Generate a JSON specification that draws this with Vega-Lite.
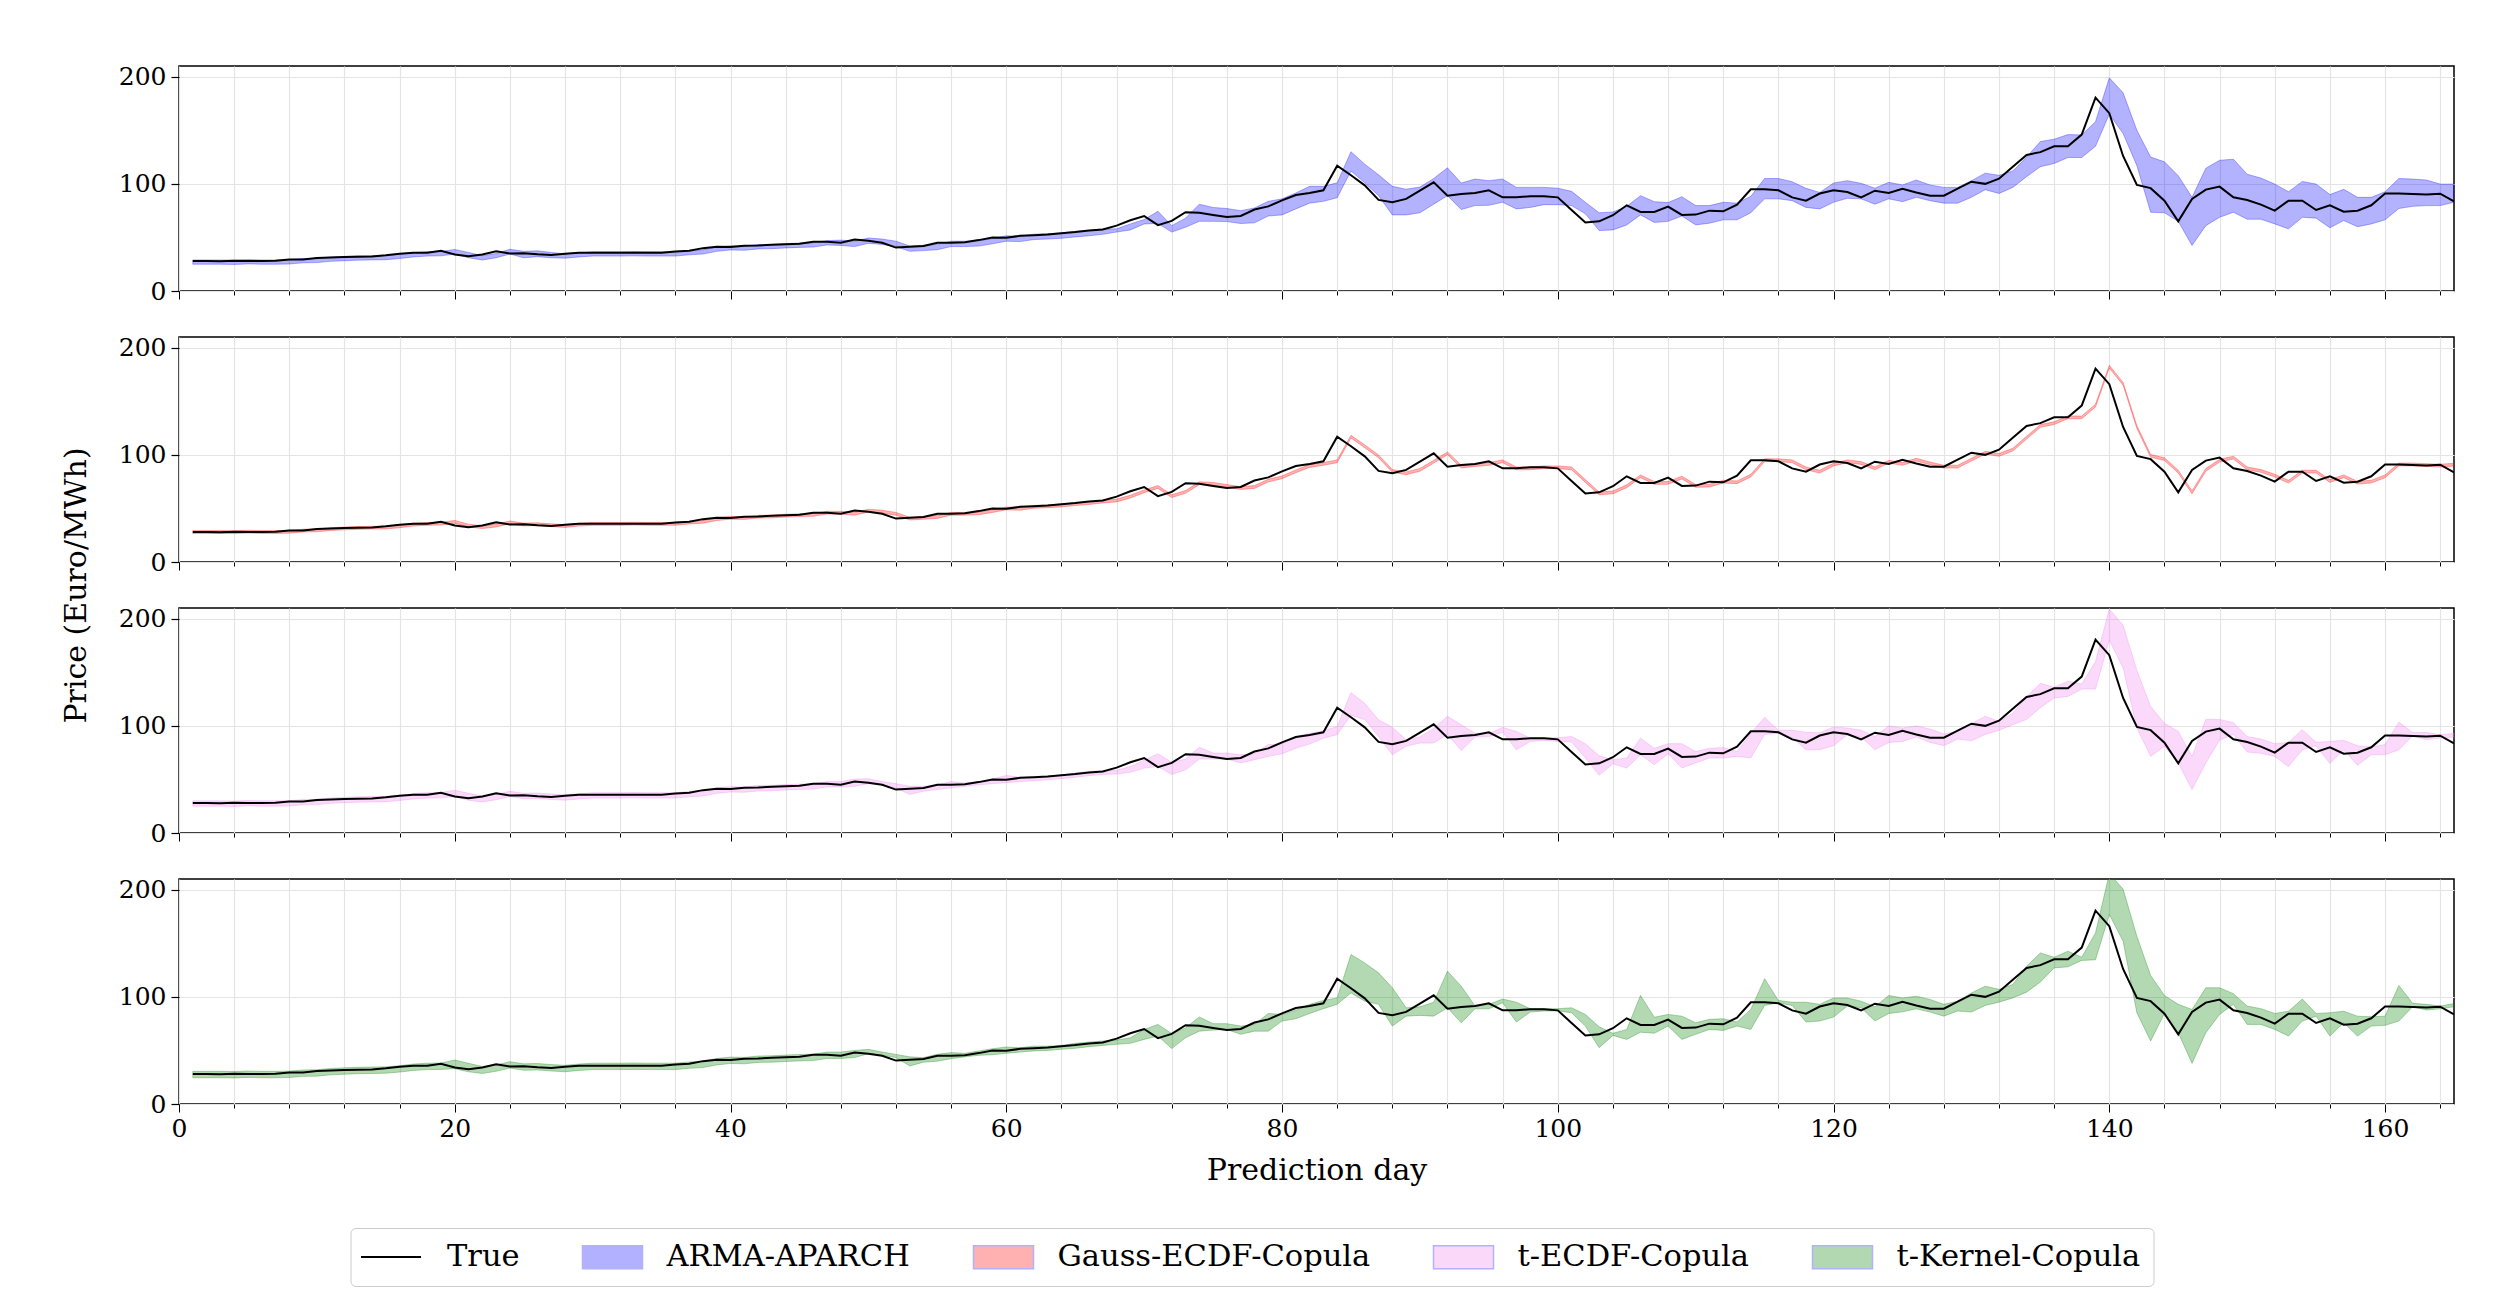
{
"$schema": "https://vega.github.io/schema/vega-lite/v6.json",
"padding": {"left": 60, "top": 63, "right": 40, "bottom": 5},
"background": "white",
"config": {
  "font": "DejaVu Serif",
  "view": {"stroke": "black", "strokeWidth": 1.5},
  "axis": {"labelFont": "DejaVu Serif", "titleFont": "DejaVu Serif", "labelFontSize": 25, "titleFontSize": 30, "titleFontWeight": "normal", "labelColor": "black", "titleColor": "black", "domain": false, "tickColor": "black", "gridColor": "#e4e4e4", "gridWidth": 1.2}
},
"datasets": {"p": [
{"d":1,"t":28,"a0":25,"a1":29,"g0":26.7,"g1":29.3,"p0":25,"p1":30,"k0":24.5,"k1":30.5},
{"d":2,"t":28,"a0":25,"a1":29,"g0":26.7,"g1":29.3,"p0":25,"p1":30,"k0":24.5,"k1":30.5},
{"d":3,"t":27.8,"a0":25,"a1":29,"g0":26.7,"g1":29.3,"p0":25,"p1":30,"k0":24.5,"k1":30.5},
{"d":4,"t":28.3,"a0":24.8,"a1":28.8,"g0":26.5,"g1":29.1,"p0":24.8,"p1":29.8,"k0":24.3,"k1":30.3},
{"d":5,"t":28,"a0":25.3,"a1":29.3,"g0":27,"g1":29.6,"p0":25.3,"p1":30.3,"k0":24.8,"k1":30.8},
{"d":6,"t":28,"a0":25,"a1":29,"g0":26.7,"g1":29.3,"p0":25,"p1":30,"k0":24.5,"k1":30.5},
{"d":7,"t":28.2,"a0":25,"a1":29,"g0":26.7,"g1":29.3,"p0":25,"p1":30,"k0":24.5,"k1":30.5},
{"d":8,"t":29.3,"a0":25.2,"a1":29.2,"g0":26.9,"g1":29.5,"p0":25.2,"p1":30.2,"k0":24.7,"k1":30.7},
{"d":9,"t":29.5,"a0":26.3,"a1":30.3,"g0":28,"g1":30.6,"p0":26.3,"p1":31.3,"k0":25.8,"k1":31.8},
{"d":10,"t":30.7,"a0":26.5,"a1":30.5,"g0":28.2,"g1":30.8,"p0":26.5,"p1":31.5,"k0":26,"k1":32},
{"d":11,"t":31.3,"a0":27.7,"a1":31.7,"g0":29.4,"g1":32,"p0":27.7,"p1":32.7,"k0":27.2,"k1":33.2},
{"d":12,"t":31.8,"a0":28.3,"a1":32.3,"g0":30,"g1":32.6,"p0":28.3,"p1":33.3,"k0":27.8,"k1":33.8},
{"d":13,"t":32,"a0":28.8,"a1":32.8,"g0":30.5,"g1":33.1,"p0":28.8,"p1":33.8,"k0":28.3,"k1":34.3},
{"d":14,"t":32.2,"a0":29,"a1":33,"g0":30.7,"g1":33.3,"p0":29,"p1":34,"k0":28.5,"k1":34.5},
{"d":15,"t":33.3,"a0":29.2,"a1":33.2,"g0":30.9,"g1":33.5,"p0":29.2,"p1":34.2,"k0":28.7,"k1":34.7},
{"d":16,"t":34.8,"a0":30.3,"a1":34.3,"g0":32,"g1":34.6,"p0":30.3,"p1":35.3,"k0":29.8,"k1":35.8},
{"d":17,"t":35.6,"a0":31.8,"a1":35.8,"g0":33.5,"g1":36.1,"p0":31.8,"p1":36.8,"k0":31.3,"k1":37.3},
{"d":18,"t":35.8,"a0":32.6,"a1":36.6,"g0":34.3,"g1":36.9,"p0":32.6,"p1":37.6,"k0":32.1,"k1":38.1},
{"d":19,"t":37.5,"a0":32.8,"a1":36.8,"g0":34.5,"g1":37.1,"p0":32.8,"p1":37.8,"k0":32.3,"k1":38.3},
{"d":20,"t":34,"a0":34.5,"a1":38.8,"g0":36.2,"g1":38.8,"p0":34,"p1":40,"k0":33,"k1":41},
{"d":21,"t":32.5,"a0":31,"a1":36,"g0":32.7,"g1":35.3,"p0":30.5,"p1":37,"k0":30,"k1":38},
{"d":22,"t":34,"a0":29,"a1":33,"g0":31.2,"g1":33.8,"p0":29,"p1":34.5,"k0":28.5,"k1":35},
{"d":23,"t":37,"a0":31,"a1":35,"g0":32.7,"g1":35.3,"p0":31,"p1":36,"k0":30.5,"k1":36.5},
{"d":24,"t":35,"a0":34.5,"a1":39,"g0":35.7,"g1":38.3,"p0":34,"p1":39,"k0":33.5,"k1":39.5},
{"d":25,"t":35.3,"a0":31,"a1":37,"g0":33.7,"g1":36.3,"p0":32,"p1":37,"k0":31.5,"k1":37.5},
{"d":26,"t":34.3,"a0":32,"a1":37.5,"g0":34,"g1":36.6,"p0":32.3,"p1":37.3,"k0":31.8,"k1":37.8},
{"d":27,"t":33.6,"a0":31,"a1":36,"g0":33,"g1":35.6,"p0":31.3,"p1":36.3,"k0":30.8,"k1":36.8},
{"d":28,"t":34.8,"a0":30.6,"a1":34.6,"g0":32.3,"g1":34.9,"p0":30.6,"p1":35.6,"k0":30.1,"k1":36.1},
{"d":29,"t":35.6,"a0":31.8,"a1":35.8,"g0":33.5,"g1":36.1,"p0":31.8,"p1":36.8,"k0":31.3,"k1":37.3},
{"d":30,"t":35.6,"a0":32.6,"a1":36.6,"g0":34.3,"g1":36.9,"p0":32.6,"p1":37.6,"k0":32.1,"k1":38.1},
{"d":31,"t":35.6,"a0":32.6,"a1":36.6,"g0":34.3,"g1":36.9,"p0":32.6,"p1":37.6,"k0":32.1,"k1":38.1},
{"d":32,"t":35.8,"a0":32.6,"a1":36.6,"g0":34.3,"g1":36.9,"p0":32.6,"p1":37.6,"k0":32.1,"k1":38.1},
{"d":33,"t":35.6,"a0":32.8,"a1":36.8,"g0":34.5,"g1":37.1,"p0":32.8,"p1":37.8,"k0":32.3,"k1":38.3},
{"d":34,"t":35.6,"a0":32.6,"a1":36.6,"g0":34.3,"g1":36.9,"p0":32.6,"p1":37.6,"k0":32.1,"k1":38.1},
{"d":35,"t":35.6,"a0":32.6,"a1":36.6,"g0":34.3,"g1":36.9,"p0":32.6,"p1":37.6,"k0":32.1,"k1":38.1},
{"d":36,"t":36.8,"a0":32.6,"a1":36.6,"g0":34.3,"g1":36.9,"p0":32.6,"p1":37.6,"k0":32.1,"k1":38.1},
{"d":37,"t":37.5,"a0":33.8,"a1":37.8,"g0":35.5,"g1":38.1,"p0":33.8,"p1":38.8,"k0":33.3,"k1":39.3},
{"d":38,"t":40,"a0":34.5,"a1":38.5,"g0":36.2,"g1":38.8,"p0":34.5,"p1":39.5,"k0":34,"k1":40},
{"d":39,"t":41.3,"a0":37,"a1":41,"g0":38.7,"g1":41.3,"p0":37,"p1":42,"k0":36.5,"k1":42.5},
{"d":40,"t":41,"a0":38.3,"a1":42.3,"g0":40,"g1":42.6,"p0":38.3,"p1":43.3,"k0":37.8,"k1":43.8},
{"d":41,"t":42.3,"a0":38,"a1":42,"g0":39.7,"g1":42.3,"p0":38,"p1":43,"k0":37.5,"k1":43.5},
{"d":42,"t":42.5,"a0":39.3,"a1":43.3,"g0":41,"g1":43.6,"p0":39.3,"p1":44.3,"k0":38.8,"k1":44.8},
{"d":43,"t":43.2,"a0":39.5,"a1":43.5,"g0":41.2,"g1":43.8,"p0":39.5,"p1":44.5,"k0":39,"k1":45},
{"d":44,"t":43.7,"a0":40.2,"a1":44.2,"g0":41.9,"g1":44.5,"p0":40.2,"p1":45.2,"k0":39.7,"k1":45.7},
{"d":45,"t":44,"a0":40.7,"a1":44.7,"g0":42.4,"g1":45,"p0":40.7,"p1":45.7,"k0":40.2,"k1":46.2},
{"d":46,"t":46,"a0":41,"a1":45,"g0":42.7,"g1":45.3,"p0":41,"p1":46,"k0":40.5,"k1":46.5},
{"d":47,"t":46,"a0":43,"a1":47,"g0":44.7,"g1":47.3,"p0":43,"p1":48,"k0":42.5,"k1":48.5},
{"d":48,"t":45,"a0":42.5,"a1":47.5,"g0":44.7,"g1":47.3,"p0":43,"p1":48,"k0":42.5,"k1":48.5},
{"d":49,"t":48,"a0":41.5,"a1":46.5,"g0":43.7,"g1":46.3,"p0":43.6,"p1":50.4,"k0":43.3,"k1":50},
{"d":50,"t":47,"a0":44.5,"a1":49.5,"g0":46.7,"g1":49.3,"p0":46,"p1":50.7,"k0":47,"k1":51},
{"d":51,"t":45,"a0":43.5,"a1":48.5,"g0":45.7,"g1":48.3,"p0":45,"p1":48,"k0":45.4,"k1":48.5},
{"d":52,"t":40.5,"a0":41.5,"a1":46.5,"g0":43.7,"g1":46.3,"p0":42,"p1":46,"k0":43.3,"k1":46.3},
{"d":53,"t":41.2,"a0":37,"a1":42,"g0":39.2,"g1":41.8,"p0":36,"p1":43.6,"k0":35.5,"k1":44},
{"d":54,"t":42,"a0":37.7,"a1":42.7,"g0":39.9,"g1":42.5,"p0":39,"p1":43.6,"k0":39,"k1":43.3},
{"d":55,"t":45,"a0":38.5,"a1":43.5,"g0":40.7,"g1":43.3,"p0":40.6,"p1":45,"k0":40,"k1":46.4},
{"d":56,"t":45,"a0":41.5,"a1":46.5,"g0":43.7,"g1":46.3,"p0":42,"p1":48,"k0":42.3,"k1":48},
{"d":57,"t":45.4,"a0":41.5,"a1":46.5,"g0":43.7,"g1":46.3,"p0":43.6,"p1":46.6,"k0":44,"k1":47.3},
{"d":58,"t":47.5,"a0":41.9,"a1":46.9,"g0":44.1,"g1":46.7,"p0":45,"p1":48,"k0":45.4,"k1":49.5},
{"d":59,"t":50,"a0":44,"a1":49,"g0":46.2,"g1":48.8,"p0":46,"p1":50.4,"k0":46,"k1":51.6},
{"d":60,"t":49.6,"a0":46.5,"a1":51.5,"g0":48.7,"g1":51.3,"p0":47,"p1":53.7,"k0":47.3,"k1":53.2},
{"d":61,"t":51.5,"a0":46.1,"a1":51.1,"g0":48.3,"g1":50.9,"p0":48,"p1":52,"k0":48.5,"k1":52.6},
{"d":62,"t":52,"a0":48,"a1":53,"g0":50.2,"g1":52.8,"p0":48.7,"p1":52.6,"k0":49.5,"k1":54},
{"d":63,"t":52.7,"a0":48.5,"a1":53.5,"g0":50.7,"g1":53.3,"p0":49.6,"p1":53.2,"k0":50,"k1":54},
{"d":64,"t":54,"a0":49.2,"a1":54.2,"g0":51.4,"g1":54,"p0":50.7,"p1":54,"k0":51,"k1":54.7},
{"d":65,"t":55,"a0":50.5,"a1":55.5,"g0":52.7,"g1":55.3,"p0":52,"p1":56,"k0":52,"k1":56.6},
{"d":66,"t":56.4,"a0":51.5,"a1":56.5,"g0":53.7,"g1":56.3,"p0":53.5,"p1":57.6,"k0":53.5,"k1":57.8},
{"d":67,"t":57.4,"a0":52.9,"a1":57.9,"g0":55.1,"g1":57.7,"p0":54.7,"p1":58,"k0":54.7,"k1":58.8},
{"d":68,"t":61,"a0":55,"a1":58,"g0":56.1,"g1":58.7,"p0":55,"p1":58.5,"k0":55.7,"k1":59.7},
{"d":69,"t":66,"a0":57,"a1":62.6,"g0":59.7,"g1":62.3,"p0":56.6,"p1":62,"k0":56.6,"k1":61.8},
{"d":70,"t":70,"a0":62.6,"a1":66.7,"g0":64.7,"g1":67.3,"p0":60.6,"p1":68,"k0":60.3,"k1":69.5},
{"d":71,"t":61.5,"a0":63,"a1":74.4,"g0":68.7,"g1":71.3,"p0":62,"p1":74,"k0":63.4,"k1":74.3},
{"d":72,"t":65.4,"a0":55,"a1":61,"g0":60.2,"g1":62.8,"p0":54.5,"p1":66,"k0":51.7,"k1":65.8},
{"d":73,"t":73.5,"a0":59.5,"a1":68,"g0":64.1,"g1":66.7,"p0":59,"p1":69,"k0":61.8,"k1":71},
{"d":74,"t":73,"a0":65,"a1":81,"g0":72.2,"g1":74.8,"p0":69,"p1":80,"k0":68,"k1":81.3},
{"d":75,"t":71,"a0":65,"a1":78,"g0":71.7,"g1":74.3,"p0":69,"p1":74.6,"k0":69,"k1":75},
{"d":76,"t":69,"a0":64.8,"a1":77,"g0":69.7,"g1":72.3,"p0":69,"p1":74.6,"k0":69.6,"k1":75},
{"d":77,"t":70,"a0":63,"a1":75,"g0":67.7,"g1":70.3,"p0":65.4,"p1":73,"k0":65,"k1":72.7},
{"d":78,"t":76,"a0":63.6,"a1":77.5,"g0":68.7,"g1":71.3,"p0":68.4,"p1":74,"k0":68,"k1":74.3},
{"d":79,"t":79,"a0":70,"a1":83.7,"g0":74.7,"g1":77.3,"p0":71.5,"p1":82.5,"k0":68,"k1":84.5},
{"d":80,"t":84.6,"a0":71,"a1":86,"g0":77.7,"g1":80.3,"p0":74,"p1":83.4,"k0":77.4,"k1":83.6},
{"d":81,"t":89.6,"a0":76.6,"a1":91.5,"g0":83.3,"g1":85.9,"p0":79,"p1":90,"k0":79.6,"k1":87.6},
{"d":82,"t":91.5,"a0":82,"a1":97.7,"g0":88.3,"g1":90.9,"p0":83,"p1":93,"k0":84.5,"k1":93},
{"d":83,"t":94,"a0":83.7,"a1":97.7,"g0":90.2,"g1":92.8,"p0":88.5,"p1":95.4,"k0":89,"k1":96.7},
{"d":84,"t":117,"a0":87,"a1":101,"g0":92.7,"g1":95.3,"p0":91.8,"p1":99.5,"k0":93,"k1":99},
{"d":85,"t":108,"a0":112,"a1":130,"g0":115.7,"g1":118.3,"p0":110,"p1":131,"k0":103.7,"k1":139.5},
{"d":86,"t":98.6,"a0":101,"a1":118.4,"g0":106.7,"g1":109.3,"p0":106,"p1":121,"k0":96,"k1":131.7},
{"d":87,"t":85,"a0":89,"a1":108.5,"g0":97.3,"g1":99.9,"p0":90,"p1":105.6,"k0":93,"k1":122.4},
{"d":88,"t":82.8,"a0":71,"a1":97.7,"g0":83.7,"g1":86.3,"p0":73,"p1":98.8,"k0":72.7,"k1":108.5},
{"d":89,"t":86,"a0":71,"a1":95,"g0":81.5,"g1":84.1,"p0":81,"p1":87,"k0":82,"k1":89.8},
{"d":90,"t":93.6,"a0":73,"a1":97,"g0":84.7,"g1":87.3,"p0":84,"p1":89.6,"k0":82.7,"k1":90.7},
{"d":91,"t":101.4,"a0":81,"a1":105,"g0":92.3,"g1":94.9,"p0":84,"p1":97.6,"k0":82,"k1":95},
{"d":92,"t":89,"a0":89,"a1":115,"g0":100.1,"g1":102.7,"p0":92,"p1":109,"k0":89.8,"k1":124},
{"d":93,"t":90.5,"a0":76,"a1":100.8,"g0":87.7,"g1":90.3,"p0":77,"p1":101,"k0":75.8,"k1":110},
{"d":94,"t":91.5,"a0":79.7,"a1":104.5,"g0":89.2,"g1":91.8,"p0":89.6,"p1":93,"k0":88.8,"k1":91.4},
{"d":95,"t":94,"a0":80,"a1":103,"g0":90.2,"g1":92.8,"p0":90,"p1":92.5,"k0":88.8,"k1":93},
{"d":96,"t":87.4,"a0":82.8,"a1":104.5,"g0":92.7,"g1":95.3,"p0":94,"p1":98.6,"k0":94.4,"k1":98},
{"d":97,"t":87.4,"a0":76.6,"a1":96.7,"g0":86.1,"g1":88.7,"p0":77.7,"p1":94.8,"k0":76.5,"k1":95},
{"d":98,"t":88.4,"a0":78,"a1":96.7,"g0":86.1,"g1":88.7,"p0":85.5,"p1":88.5,"k0":85.8,"k1":89},
{"d":99,"t":88.4,"a0":80.6,"a1":96.7,"g0":87.1,"g1":89.7,"p0":86.5,"p1":89,"k0":86.8,"k1":89},
{"d":100,"t":87.4,"a0":80.6,"a1":96,"g0":87.1,"g1":89.7,"p0":85.5,"p1":89,"k0":86.8,"k1":89},
{"d":101,"t":75.6,"a0":79.7,"a1":93,"g0":86.1,"g1":88.7,"p0":85,"p1":90,"k0":85.2,"k1":89.8},
{"d":102,"t":64,"a0":72,"a1":82.8,"g0":74.3,"g1":76.9,"p0":70,"p1":83.4,"k0":72.7,"k1":83.6},
{"d":103,"t":65,"a0":56.4,"a1":73,"g0":62.7,"g1":65.3,"p0":53.9,"p1":72,"k0":52.6,"k1":72},
{"d":104,"t":70.7,"a0":57,"a1":73.8,"g0":63.7,"g1":66.3,"p0":64.6,"p1":68.4,"k0":64,"k1":66},
{"d":105,"t":80,"a0":61.7,"a1":79,"g0":69.4,"g1":72,"p0":60.6,"p1":70,"k0":60.3,"k1":69.6},
{"d":106,"t":73.8,"a0":71,"a1":89,"g0":78.7,"g1":81.3,"p0":73,"p1":88.5,"k0":67,"k1":101.3},
{"d":107,"t":73.8,"a0":64,"a1":83.4,"g0":72.5,"g1":75.1,"p0":63.8,"p1":79,"k0":66,"k1":81},
{"d":108,"t":78.8,"a0":65,"a1":82.5,"g0":72.5,"g1":75.1,"p0":74,"p1":83.4,"k0":72.7,"k1":83.6},
{"d":109,"t":71,"a0":70,"a1":88,"g0":77.5,"g1":80.1,"p0":60.6,"p1":83.4,"k0":60.3,"k1":82},
{"d":110,"t":71.3,"a0":61.7,"a1":79.7,"g0":69.7,"g1":72.3,"p0":65.4,"p1":76,"k0":65,"k1":75.8},
{"d":111,"t":75,"a0":63.3,"a1":79.7,"g0":70,"g1":72.6,"p0":70,"p1":79,"k0":69.6,"k1":79},
{"d":112,"t":74.4,"a0":66.4,"a1":82.8,"g0":73.7,"g1":76.3,"p0":70,"p1":79.7,"k0":68.7,"k1":79.6},
{"d":113,"t":80.6,"a0":66.4,"a1":82,"g0":73.1,"g1":75.7,"p0":71.5,"p1":76,"k0":72.7,"k1":76.5},
{"d":114,"t":95,"a0":73,"a1":88.4,"g0":79.3,"g1":81.9,"p0":70,"p1":93,"k0":69.6,"k1":88.3},
{"d":115,"t":95,"a0":86,"a1":105,"g0":93.7,"g1":96.3,"p0":92,"p1":108,"k0":92,"k1":117},
{"d":116,"t":94,"a0":86,"a1":105,"g0":93.7,"g1":96.3,"p0":93,"p1":96,"k0":94.4,"k1":96.7},
{"d":117,"t":87.4,"a0":84.3,"a1":102,"g0":92.7,"g1":95.3,"p0":89,"p1":96,"k0":92,"k1":95},
{"d":118,"t":84.3,"a0":78,"a1":95.8,"g0":86.1,"g1":88.7,"p0":77.7,"p1":94,"k0":76.5,"k1":95},
{"d":119,"t":91,"a0":76.6,"a1":92,"g0":83,"g1":85.6,"p0":77.7,"p1":93.5,"k0":77.4,"k1":93},
{"d":120,"t":94,"a0":82.8,"a1":100.8,"g0":89.7,"g1":92.3,"p0":81.5,"p1":99,"k0":81.1,"k1":99},
{"d":121,"t":92.4,"a0":86.5,"a1":103,"g0":92.7,"g1":95.3,"p0":91.7,"p1":98,"k0":91.4,"k1":99},
{"d":122,"t":87.4,"a0":86,"a1":100.5,"g0":91.1,"g1":93.7,"p0":89.6,"p1":96,"k0":89.8,"k1":96},
{"d":123,"t":93.6,"a0":81,"a1":96,"g0":86.1,"g1":88.7,"p0":77.7,"p1":90,"k0":77.4,"k1":90.7},
{"d":124,"t":91.5,"a0":86,"a1":101.4,"g0":92.3,"g1":94.9,"p0":84.5,"p1":100,"k0":84.5,"k1":101.3},
{"d":125,"t":95.5,"a0":83.4,"a1":99,"g0":90.2,"g1":92.8,"p0":85.5,"p1":98,"k0":86,"k1":99},
{"d":126,"t":92,"a0":87.4,"a1":103.6,"g0":94.2,"g1":96.8,"p0":89.6,"p1":100,"k0":88.8,"k1":100.6},
{"d":127,"t":89,"a0":84.3,"a1":99,"g0":90.7,"g1":93.3,"p0":84.5,"p1":97,"k0":85.8,"k1":97.6},
{"d":128,"t":89,"a0":82,"a1":96.7,"g0":87.7,"g1":90.3,"p0":81.5,"p1":92.5,"k0":82,"k1":93},
{"d":129,"t":95.5,"a0":82,"a1":96.7,"g0":87.7,"g1":90.3,"p0":87.7,"p1":94.8,"k0":86.8,"k1":96},
{"d":130,"t":102,"a0":87.4,"a1":103,"g0":94.2,"g1":96.8,"p0":86,"p1":102,"k0":85.8,"k1":103.7},
{"d":131,"t":100,"a0":94.6,"a1":110,"g0":100.7,"g1":103.3,"p0":92,"p1":109,"k0":92,"k1":110},
{"d":132,"t":104.8,"a0":91,"a1":108,"g0":98.7,"g1":101.3,"p0":95.8,"p1":104,"k0":95,"k1":107},
{"d":133,"t":116,"a0":96.7,"a1":112,"g0":103.5,"g1":106.1,"p0":101,"p1":111.8,"k0":99,"k1":111.6},
{"d":134,"t":127,"a0":106.7,"a1":125,"g0":114.7,"g1":117.3,"p0":106,"p1":127,"k0":104.4,"k1":128.6},
{"d":135,"t":129.6,"a0":116,"a1":139.5,"g0":125.7,"g1":128.3,"p0":117,"p1":139.7,"k0":113.8,"k1":141},
{"d":136,"t":135,"a0":119,"a1":141.7,"g0":128.3,"g1":130.9,"p0":126,"p1":136,"k0":127,"k1":137},
{"d":137,"t":135,"a0":124.6,"a1":146,"g0":133.7,"g1":136.3,"p0":127.5,"p1":141.7,"k0":128,"k1":142.6},
{"d":138,"t":146,"a0":124.6,"a1":145.7,"g0":133.7,"g1":136.3,"p0":134.3,"p1":139,"k0":134,"k1":137},
{"d":139,"t":180.5,"a0":135,"a1":158,"g0":144.7,"g1":147.3,"p0":134.3,"p1":160,"k0":134.6,"k1":159.7},
{"d":140,"t":166,"a0":165,"a1":199,"g0":181,"g1":183.6,"p0":180,"p1":209,"k0":176.8,"k1":215},
{"d":141,"t":126,"a0":147,"a1":185,"g0":165,"g1":167.6,"p0":154,"p1":194,"k0":152,"k1":200.6},
{"d":142,"t":99,"a0":117,"a1":150,"g0":124.7,"g1":127.3,"p0":98,"p1":152,"k0":85,"k1":156.5},
{"d":143,"t":96,"a0":73.5,"a1":125,"g0":97.7,"g1":100.3,"p0":71.5,"p1":118,"k0":58.8,"k1":120},
{"d":144,"t":84.3,"a0":73,"a1":120.6,"g0":94.7,"g1":97.3,"p0":81,"p1":102.5,"k0":84.5,"k1":101.3},
{"d":145,"t":65,"a0":65,"a1":107.6,"g0":83,"g1":85.6,"p0":65.4,"p1":94.8,"k0":66.5,"k1":93},
{"d":146,"t":86,"a0":42.5,"a1":87.4,"g0":63.7,"g1":66.3,"p0":40.6,"p1":71.5,"k0":37.9,"k1":88.3},
{"d":147,"t":94.6,"a0":61,"a1":114.6,"g0":84.7,"g1":87.3,"p0":65.4,"p1":106,"k0":66.5,"k1":108.5},
{"d":148,"t":97.4,"a0":68.8,"a1":122,"g0":93.3,"g1":95.9,"p0":86.6,"p1":106,"k0":83.6,"k1":108.5},
{"d":149,"t":87.4,"a0":73.5,"a1":123,"g0":96.1,"g1":98.7,"p0":92,"p1":103,"k0":93,"k1":103},
{"d":150,"t":85,"a0":67,"a1":109,"g0":86.1,"g1":88.7,"p0":75.6,"p1":90,"k0":74.3,"k1":91.4},
{"d":151,"t":80.6,"a0":67,"a1":105.4,"g0":83.7,"g1":86.3,"p0":74.4,"p1":87.7,"k0":74.3,"k1":89},
{"d":152,"t":75,"a0":62.6,"a1":99.8,"g0":79.3,"g1":81.9,"p0":71.5,"p1":83.4,"k0":69.6,"k1":84.5},
{"d":153,"t":84.3,"a0":58,"a1":92.7,"g0":73.7,"g1":76.3,"p0":62,"p1":84.6,"k0":63.4,"k1":86.6},
{"d":154,"t":84.3,"a0":68.8,"a1":102.3,"g0":83,"g1":85.6,"p0":77.7,"p1":96.4,"k0":77.4,"k1":98},
{"d":155,"t":75.6,"a0":68,"a1":99.8,"g0":83,"g1":85.6,"p0":81.5,"p1":84.6,"k0":82,"k1":84.5},
{"d":156,"t":80,"a0":59,"a1":90,"g0":74.3,"g1":76.9,"p0":64.8,"p1":85.5,"k0":63.4,"k1":85.2},
{"d":157,"t":74,"a0":65.7,"a1":94.9,"g0":78.7,"g1":81.3,"p0":77.7,"p1":86.5,"k0":75.8,"k1":86.6},
{"d":158,"t":75,"a0":60,"a1":87.4,"g0":72.7,"g1":75.3,"p0":63.2,"p1":81.5,"k0":63.4,"k1":82},
{"d":159,"t":80,"a0":62.6,"a1":87.4,"g0":73.7,"g1":76.3,"p0":73,"p1":80.3,"k0":72.7,"k1":81.4},
{"d":160,"t":91,"a0":66.4,"a1":92.7,"g0":78.7,"g1":81.3,"p0":73,"p1":82.5,"k0":73.4,"k1":82},
{"d":161,"t":91,"a0":77,"a1":105,"g0":89.7,"g1":92.3,"p0":77.7,"p1":103.5,"k0":77.4,"k1":110.6},
{"d":162,"t":90.5,"a0":79,"a1":104.5,"g0":89.7,"g1":92.3,"p0":90.7,"p1":93.8,"k0":90.7,"k1":94},
{"d":163,"t":90,"a0":79.7,"a1":103.6,"g0":89.2,"g1":91.8,"p0":87,"p1":93.8,"k0":87.7,"k1":93},
{"d":164,"t":90.8,"a0":79.7,"a1":99.8,"g0":88.7,"g1":91.3,"p0":88.6,"p1":91.7,"k0":88.8,"k1":91.4},
{"d":165,"t":83.7,"a0":82.8,"a1":99.8,"g0":89.5,"g1":92.1,"p0":89.6,"p1":93,"k0":90.7,"k1":93.8}
]},
"spacing": 46,
"bounds": "flush",
"resolve": {"scale": {"color": "shared", "stroke": "shared"}, "legend": {"color": "shared", "stroke": "shared"}},
"vconcat": [
{
 "width": 2275, "height": 225,
 "data": {"name": "p"},
 "layer": [
  {"mark": {"type": "area", "fillOpacity": 0.3, "stroke": "blue", "strokeOpacity": 0.3, "strokeWidth": 1, "clip": true},
   "encoding": {
    "x": {"field": "d", "type": "quantitative", "scale": {"domain": [0, 165], "nice": false, "zero": false},
      "axis": {"title": null, "labels": false, "grid": true, "values": [0,1,2,3,4,5,6,7,8,9,10,11,12,13,14,15,16,17,18,19,20,21,22,23,24,25,26,27,28,29,30,31,32,33,34,35,36,37,38,39,40,41,42,43,44,45,46,47,48,49,50,51,52,53,54,55,56,57,58,59,60,61,62,63,64,65,66,67,68,69,70,71,72,73,74,75,76,77,78,79,80,81,82,83,84,85,86,87,88,89,90,91,92,93,94,95,96,97,98,99,100,101,102,103,104,105,106,107,108,109,110,111,112,113,114,115,116,117,118,119,120,121,122,123,124,125,126,127,128,129,130,131,132,133,134,135,136,137,138,139,140,141,142,143,144,145,146,147,148,149,150,151,152,153,154,155,156,157,158,159,160,161,162,163,164,165],
        "tickSize": {"condition": {"test": "datum.value % 20 === 0", "value": 8}, "value": 4}, "tickWidth": 1}},
    "y": {"field": "a0", "type": "quantitative", "scale": {"domain": [0, 210], "nice": false},
      "axis": {"title": null, "values": [0, 100, 200], "grid": true, "tickSize": 8, "tickWidth": 1.2, "labelPadding": 5}},
    "y2": {"field": "a1"},
    "color": {"datum": "ARMA-APARCH", "type": "nominal",
      "scale": {"domain": ["ARMA-APARCH", "Gauss-ECDF-Copula", "t-ECDF-Copula", "t-Kernel-Copula"], "range": ["blue", "red", "violet", "green"]},
      "legend": {"orient": "none", "legendX": 171.5, "legendY": 1162, "direction": "horizontal",
        "title": "True", "titleOrient": "left", "titleColor": "transparent", "titleFont": "DejaVu Serif", "titleFontSize": 30.5, "titleFontWeight": "normal", "titlePadding": 145,
        "labelFont": "DejaVu Serif", "labelFontSize": 30.5, "labelColor": "black", "labelBaseline": "middle", "labelLimit": 1000,
        "symbolSize": 900, "symbolType": "M-2,-0.76H2V0.76H-2Z", "symbolOffset": 15, "symbolOpacity": 0.3, "labelOffset": 38, "columnPadding": 60,
        "padding": 13, "strokeColor": "#cccccc", "cornerRadius": 5}}
   }},
  {"mark": {"type": "line", "strokeWidth": 2, "clip": true},
   "encoding": {"x": {"field": "d", "type": "quantitative"}, "y": {"field": "t", "type": "quantitative"},
     "stroke": {"datum": "True", "type": "nominal", "scale": {"domain": ["True"], "range": ["black"]},
       "legend": {"orient": "none", "legendX": 181, "legendY": 1160, "title": null, "direction": "horizontal",
         "labelFont": "DejaVu Serif", "labelFontSize": 30.5, "labelColor": "black", "labelBaseline": "middle",
         "symbolType": "stroke", "symbolSize": 3600, "symbolStrokeWidth": 2, "symbolStrokeColor": "black", "labelOffset": 25, "padding": 0}}}}
 ]
},
{
 "width": 2275, "height": 225,
 "data": {"name": "p"},
 "layer": [
  {"mark": {"type": "area", "fillOpacity": 0.3, "stroke": "red", "strokeOpacity": 0.3, "strokeWidth": 1, "clip": true},
   "encoding": {
    "x": {"field": "d", "type": "quantitative", "scale": {"domain": [0, 165], "nice": false, "zero": false},
      "axis": {"title": null, "labels": false, "grid": true, "values": [0,1,2,3,4,5,6,7,8,9,10,11,12,13,14,15,16,17,18,19,20,21,22,23,24,25,26,27,28,29,30,31,32,33,34,35,36,37,38,39,40,41,42,43,44,45,46,47,48,49,50,51,52,53,54,55,56,57,58,59,60,61,62,63,64,65,66,67,68,69,70,71,72,73,74,75,76,77,78,79,80,81,82,83,84,85,86,87,88,89,90,91,92,93,94,95,96,97,98,99,100,101,102,103,104,105,106,107,108,109,110,111,112,113,114,115,116,117,118,119,120,121,122,123,124,125,126,127,128,129,130,131,132,133,134,135,136,137,138,139,140,141,142,143,144,145,146,147,148,149,150,151,152,153,154,155,156,157,158,159,160,161,162,163,164,165],
        "tickSize": {"condition": {"test": "datum.value % 20 === 0", "value": 8}, "value": 4}, "tickWidth": 1}},
    "y": {"field": "g0", "type": "quantitative", "scale": {"domain": [0, 210], "nice": false},
      "axis": {"title": "Price (Euro/MWh)", "titleX": -103, "titleY": 248, "titleAngle": 270, "titleAlign": "center", "titleBaseline": "middle", "values": [0, 100, 200], "grid": true, "tickSize": 8, "tickWidth": 1.2, "labelPadding": 5}},
    "y2": {"field": "g1"},
    "color": {"datum": "Gauss-ECDF-Copula", "type": "nominal"}
   }},
  {"mark": {"type": "line", "strokeWidth": 2, "clip": true},
   "encoding": {"x": {"field": "d", "type": "quantitative"}, "y": {"field": "t", "type": "quantitative"}, "stroke": {"datum": "True", "type": "nominal"}}}
 ]
},
{
 "width": 2275, "height": 225,
 "data": {"name": "p"},
 "layer": [
  {"mark": {"type": "area", "fillOpacity": 0.3, "stroke": "violet", "strokeOpacity": 0.3, "strokeWidth": 1, "clip": true},
   "encoding": {
    "x": {"field": "d", "type": "quantitative", "scale": {"domain": [0, 165], "nice": false, "zero": false},
      "axis": {"title": null, "labels": false, "grid": true, "values": [0,1,2,3,4,5,6,7,8,9,10,11,12,13,14,15,16,17,18,19,20,21,22,23,24,25,26,27,28,29,30,31,32,33,34,35,36,37,38,39,40,41,42,43,44,45,46,47,48,49,50,51,52,53,54,55,56,57,58,59,60,61,62,63,64,65,66,67,68,69,70,71,72,73,74,75,76,77,78,79,80,81,82,83,84,85,86,87,88,89,90,91,92,93,94,95,96,97,98,99,100,101,102,103,104,105,106,107,108,109,110,111,112,113,114,115,116,117,118,119,120,121,122,123,124,125,126,127,128,129,130,131,132,133,134,135,136,137,138,139,140,141,142,143,144,145,146,147,148,149,150,151,152,153,154,155,156,157,158,159,160,161,162,163,164,165],
        "tickSize": {"condition": {"test": "datum.value % 20 === 0", "value": 8}, "value": 4}, "tickWidth": 1}},
    "y": {"field": "p0", "type": "quantitative", "scale": {"domain": [0, 210], "nice": false},
      "axis": {"title": null, "values": [0, 100, 200], "grid": true, "tickSize": 8, "tickWidth": 1.2, "labelPadding": 5}},
    "y2": {"field": "p1"},
    "color": {"datum": "t-ECDF-Copula", "type": "nominal"}
   }},
  {"mark": {"type": "line", "strokeWidth": 2, "clip": true},
   "encoding": {"x": {"field": "d", "type": "quantitative"}, "y": {"field": "t", "type": "quantitative"}, "stroke": {"datum": "True", "type": "nominal"}}}
 ]
},
{
 "width": 2275, "height": 225,
 "data": {"name": "p"},
 "layer": [
  {"mark": {"type": "area", "fillOpacity": 0.3, "stroke": "green", "strokeOpacity": 0.3, "strokeWidth": 1, "clip": true},
   "encoding": {
    "x": {"field": "d", "type": "quantitative", "scale": {"domain": [0, 165], "nice": false, "zero": false},
      "axis": {"title": "Prediction day", "titlePadding": 14, "labelPadding": 4, "labelOverlap": false, "labelFlush": false, "labelExpr": "datum.value % 20 === 0 ? datum.label : ''", "grid": true, "values": [0,1,2,3,4,5,6,7,8,9,10,11,12,13,14,15,16,17,18,19,20,21,22,23,24,25,26,27,28,29,30,31,32,33,34,35,36,37,38,39,40,41,42,43,44,45,46,47,48,49,50,51,52,53,54,55,56,57,58,59,60,61,62,63,64,65,66,67,68,69,70,71,72,73,74,75,76,77,78,79,80,81,82,83,84,85,86,87,88,89,90,91,92,93,94,95,96,97,98,99,100,101,102,103,104,105,106,107,108,109,110,111,112,113,114,115,116,117,118,119,120,121,122,123,124,125,126,127,128,129,130,131,132,133,134,135,136,137,138,139,140,141,142,143,144,145,146,147,148,149,150,151,152,153,154,155,156,157,158,159,160,161,162,163,164,165],
        "tickSize": {"condition": {"test": "datum.value % 20 === 0", "value": 8}, "value": 4}, "tickWidth": 1}},
    "y": {"field": "k0", "type": "quantitative", "scale": {"domain": [0, 210], "nice": false},
      "axis": {"title": null, "values": [0, 100, 200], "grid": true, "tickSize": 8, "tickWidth": 1.2, "labelPadding": 5}},
    "y2": {"field": "k1"},
    "color": {"datum": "t-Kernel-Copula", "type": "nominal"}
   }},
  {"mark": {"type": "line", "strokeWidth": 2, "clip": true},
   "encoding": {"x": {"field": "d", "type": "quantitative"}, "y": {"field": "t", "type": "quantitative"}, "stroke": {"datum": "True", "type": "nominal"}}}
 ]
}
]
}
